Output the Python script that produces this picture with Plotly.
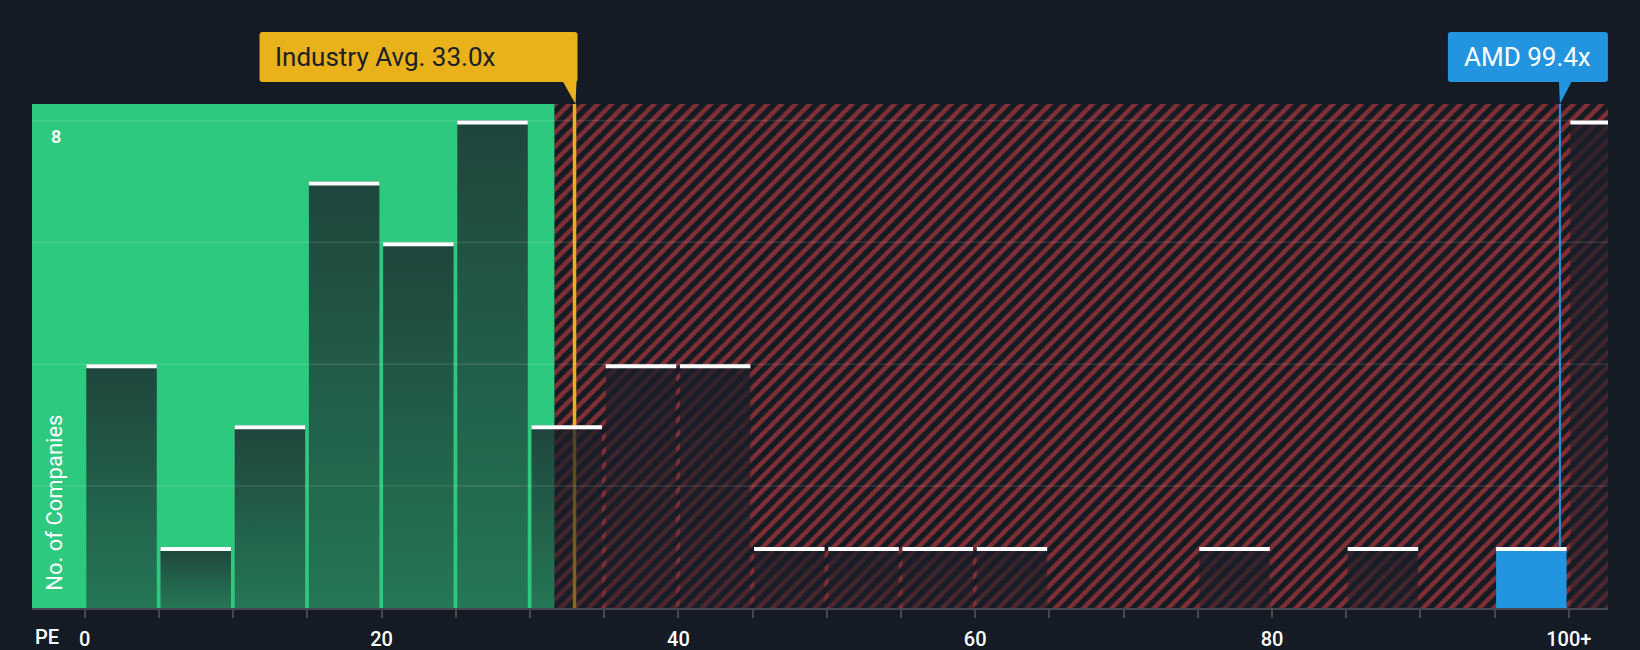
import plotly.graph_objects as go

# ---------------- data ----------------
bin_starts = [0, 5, 10, 15, 20, 25, 30, 35, 40, 45, 50, 55, 60, 65, 70, 75, 80, 85, 90, 95, 100]
counts     = [4, 1, 3, 7, 6, 8, 3, 4, 4, 1, 1, 1, 1, 0, 0, 1, 0, 1, 0, 1, 8]
tick_values = list(range(0, 105, 5))
tick_label_map = {0: "0", 20: "20", 40: "40", 60: "60", 80: "80", 100: "100+"}
y_grid_values = [2, 4, 6, 8]
y_label_values = [8]
industry_avg = 33.0
industry_label = "Industry Avg. 33.0x"
company_pe = 99.4
company_label = "AMD 99.4x"
company_bin = 95
fair_limit = 31.66

# ---------------- style ----------------
BG = "#151b24"
GREEN = "#2dc97f"
RED = "#ee4444"
BLUE = "#2394df"
GOLD = "#e9b11a"
FONT = "Roboto"
X_RANGE = [-3.558, 102.64]
Y_TOP = 8.27

fig = go.Figure()

# hatched "expensive" region
fig.add_trace(go.Scatter(
    x=[fair_limit, X_RANGE[1] + 5, X_RANGE[1] + 5, fair_limit, fair_limit],
    y=[0, 0, Y_TOP, Y_TOP, 0],
    mode="lines", line=dict(width=0), fill="toself",
    fillcolor=BG,
    fillpattern=dict(shape="/", fgcolor=RED, bgcolor=BG, size=10, solidity=0.45),
    hoverinfo="skip", showlegend=False))

# reference lines (beneath the bars)
fig.add_trace(go.Scatter(x=[industry_avg, industry_avg], y=[0, Y_TOP], mode="lines",
                         line=dict(color=GOLD, width=3.5), hoverinfo="skip", showlegend=False))
fig.add_trace(go.Scatter(x=[company_pe, company_pe], y=[0, Y_TOP], mode="lines",
                         line=dict(color=BLUE, width=2), hoverinfo="skip", showlegend=False))

shapes = []
# green "fair" region
shapes.append(dict(type="rect", xref="x", yref="paper", x0=X_RANGE[0] - 1, x1=fair_limit,
                   y0=0, y1=1, fillcolor=GREEN, line=dict(width=0), layer="below"))

# bars
for s, c in zip(bin_starts, counts):
    if c == 0:
        continue
    x0, x1 = s + 0.1, s + 4.85
    kw = {}
    if s == company_bin:
        kw["fillcolor"] = BLUE
    else:
        kw["fillgradient"] = dict(type="vertical",
                                  colorscale=[[0, "rgba(27,30,40,0.48)"], [1, "rgba(27,30,40,0.77)"]])
    fig.add_trace(go.Scatter(x=[x0, x1, x1, x0, x0], y=[0, 0, c, c, 0], mode="lines",
                             line=dict(width=0), fill="toself", hoverinfo="skip",
                             showlegend=False, **kw))
    shapes.append(dict(type="rect", xref="x", yref="y", x0=x0, x1=x1,
                       ysizemode="pixel", yanchor=c, y0=-4, y1=0,
                       fillcolor="white", line=dict(width=0), layer="above"))

# grid lines on top
for gv in y_grid_values:
    shapes.append(dict(type="line", xref="paper", yref="y", x0=0, x1=1, y0=gv, y1=gv,
                       line=dict(color="rgba(255,255,255,0.11)", width=1.5), layer="above"))


def rounded(x0, y0, x1, y1, r=3):
    # pixel path (y up)
    return (f"M {x0+r},{y0} L {x1-r},{y0} Q {x1},{y0} {x1},{y0+r} L {x1},{y1-r} "
            f"Q {x1},{y1} {x1-r},{y1} L {x0+r},{y1} Q {x0},{y1} {x0},{y1-r} "
            f"L {x0},{y0+r} Q {x0},{y0} {x0+r},{y0} Z")


# industry label box + pointer
shapes.append(dict(type="path", xref="x", yref="paper", xsizemode="pixel", ysizemode="pixel",
                   xanchor=industry_avg, yanchor=1, path=rounded(-315, 22, 3, 72),
                   fillcolor=GOLD, line=dict(width=0), layer="above"))
shapes.append(dict(type="path", xref="x", yref="paper", xsizemode="pixel", ysizemode="pixel",
                   xanchor=industry_avg, yanchor=1, path="M -12,23 L 2,23 L 1,0 Z",
                   fillcolor=GOLD, line=dict(width=0), layer="above"))
# company label box + pointer
shapes.append(dict(type="path", xref="x", yref="paper", xsizemode="pixel", ysizemode="pixel",
                   xanchor=company_pe, yanchor=1, path=rounded(-112, 22, 48, 72),
                   fillcolor=BLUE, line=dict(width=0), layer="above"))
shapes.append(dict(type="path", xref="x", yref="paper", xsizemode="pixel", ysizemode="pixel",
                   xanchor=company_pe, yanchor=1, path="M -1,23 L 12,23 L 0,0 Z",
                   fillcolor=BLUE, line=dict(width=0), layer="above"))

annotations = [
    dict(text=industry_label, xref="x", yref="paper", x=industry_avg, y=1,
         xanchor="left", yanchor="middle", xshift=-302, yshift=47, showarrow=False,
         font=dict(family=FONT, size=26, color="#1b2029")),
    dict(text=company_label, xref="x", yref="paper", x=company_pe, y=1,
         xanchor="center", yanchor="middle", xshift=-32, yshift=47, showarrow=False,
         font=dict(family=FONT, size=26, color="white")),
    dict(text="PE", xref="paper", yref="paper", x=0.0095, y=-0.0575,
         xanchor="center", yanchor="middle", showarrow=False,
         font=dict(family=FONT, size=20, color="white", weight=500)),
    dict(text="No. of Companies", xref="paper", yref="paper", x=0.0143, y=0.208,
         xanchor="center", yanchor="middle", textangle=-90, showarrow=False,
         font=dict(family=FONT, size=22, color="white")),
]
for yv in y_label_values:
    annotations.append(dict(text=str(yv), xref="paper", yref="y", x=0.015, y=yv, yshift=-16,
                            xanchor="center", yanchor="middle", showarrow=False,
                            font=dict(family=FONT, size=18, color="white", weight=600)))

fig.update_layout(
    width=1640, height=650,
    margin=dict(l=32, r=32, t=104, b=42, autoexpand=False),
    paper_bgcolor=BG, plot_bgcolor=BG,
    showlegend=False,
    shapes=shapes, annotations=annotations,
    xaxis=dict(range=X_RANGE, showgrid=False, zeroline=False, automargin=False,
               tickmode="array", tickvals=tick_values,
               ticktext=[tick_label_map.get(v, "") for v in tick_values],
               ticks="outside", ticklen=8, tickwidth=2, tickcolor="#454a52",
               showline=True, linecolor="#454a52", linewidth=2,
               ticklabelstandoff=4,
               tickfont=dict(family=FONT, size=20, color="white", weight=500)),
    yaxis=dict(range=[0, Y_TOP], showgrid=False, zeroline=False, showticklabels=False,
               ticks="", automargin=False),
)

fig.write_html("out.html", config={"displayModeBar": False},
               post_script="document.body.style.margin='0';document.body.style.background='%s';" % BG)
